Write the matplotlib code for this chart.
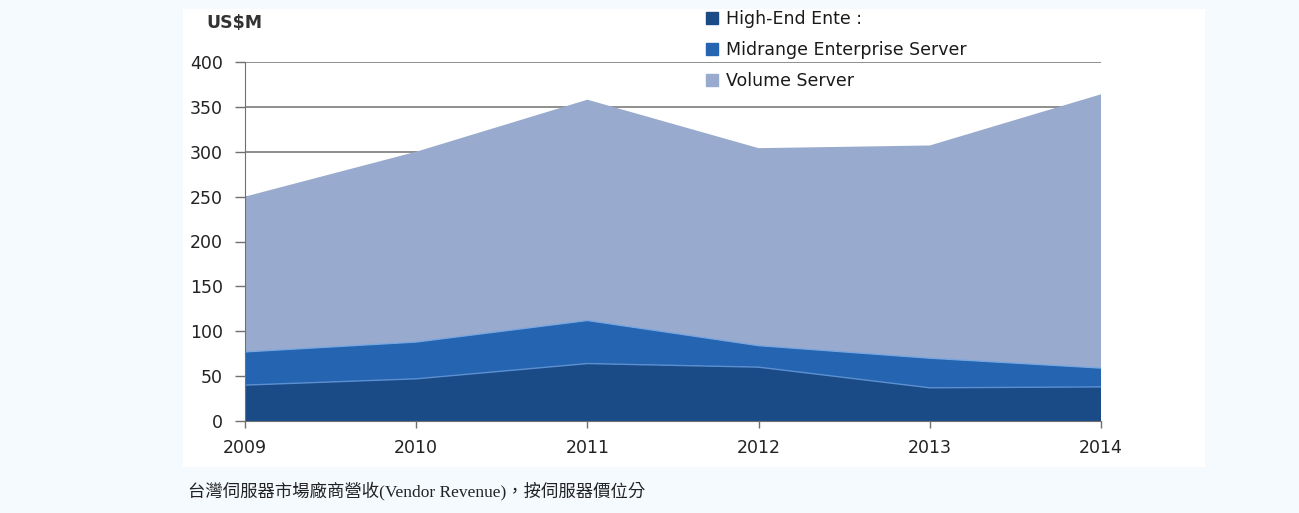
import matplotlib
matplotlib.use("Agg")
import matplotlib.pyplot as plt
from matplotlib.patches import Rectangle
from matplotlib.lines import Line2D
import numpy as np

years = [2009, 2010, 2011, 2012, 2013, 2014]
high_end = [40, 47, 64, 60, 37, 38]
midrange = [37, 41, 48, 24, 33, 21]
volume = [173, 212, 246, 220, 237, 305]
series_labels = ["High-End Ente :", "Midrange Enterprise Server", "Volume Server"]
colors = ["#1b4b87", "#2464b0", "#98aacd"]
yticks = [0, 50, 100, 150, 200, 250, 300, 350, 400]
caption = "台灣伺服器市場廠商營收(Vendor Revenue)，按伺服器價位分"

W, H = 1299, 513
fig = plt.figure(figsize=(W / 100, H / 100), dpi=100)
fig.patch.set_facecolor("#f5faff")

# white panel behind chart
fig.patches.append(Rectangle((183 / W, 1 - 467 / H), (1205 - 183) / W, (467 - 9) / H,
                             transform=fig.transFigure, facecolor="white",
                             edgecolor="none", zorder=-10))

ax = fig.add_axes([245 / W, 1 - 421 / H, (1101 - 245) / W, (421 - 62) / H])
ax.set_facecolor("none")

ax.stackplot(years, high_end, midrange, volume, colors=colors, linewidth=0, zorder=2)
cum1 = np.array(high_end)
cum2 = cum1 + np.array(midrange)
ax.plot(years, cum1, color="#5b8fd0", lw=1.0, zorder=3)
ax.plot(years, cum2, color="#7aa6e0", lw=1.0, zorder=3)

ax.set_xlim(2009, 2014)
ax.set_ylim(0, 400)
ax.set_yticks(yticks)
ax.set_xticks(years)
ax.set_xticklabels([str(y) for y in years])
ax.yaxis.grid(True, color="#707070", lw=1.1, zorder=1)
ax.set_axisbelow(True)

for s in ["top", "right"]:
    ax.spines[s].set_visible(False)
ax.spines["left"].set_color("#707070")
ax.spines["bottom"].set_color("#707070")
ax.spines["left"].set_zorder(4)
ax.spines["bottom"].set_zorder(4)

ax.tick_params(axis="y", length=7, width=1, color="#707070", pad=9,
               labelsize=12.5, labelcolor="#222222")
ax.tick_params(axis="x", length=5, width=1, color="#707070", pad=8,
               labelsize=12.5, labelcolor="#222222")

fig.text(206 / W, 1 - 23 / H, "US$M", fontsize=12.5, fontweight="bold",
         color="#333333", ha="left", va="center")

handles = [Line2D([0], [0], marker="s", linestyle="none", markersize=8,
                  markerfacecolor=c, markeredgecolor=c) for c in colors]
leg = fig.legend(handles, series_labels, loc="upper left",
                 bbox_to_anchor=(705 / W, 1 - 10 / H), frameon=False,
                 fontsize=12.5, labelspacing=0.75, handlelength=0.8,
                 handletextpad=0.4, borderpad=0, borderaxespad=0)
for t in leg.get_texts():
    t.set_color("#1a1a1a")

fig.text(188 / W, 1 - 491 / H, caption, fontsize=12.5,
         family=["Liberation Serif", "Noto Sans CJK TC"], color="#222222",
         ha="left", va="center")

fig.savefig("out.png", dpi=100, facecolor=fig.get_facecolor())
